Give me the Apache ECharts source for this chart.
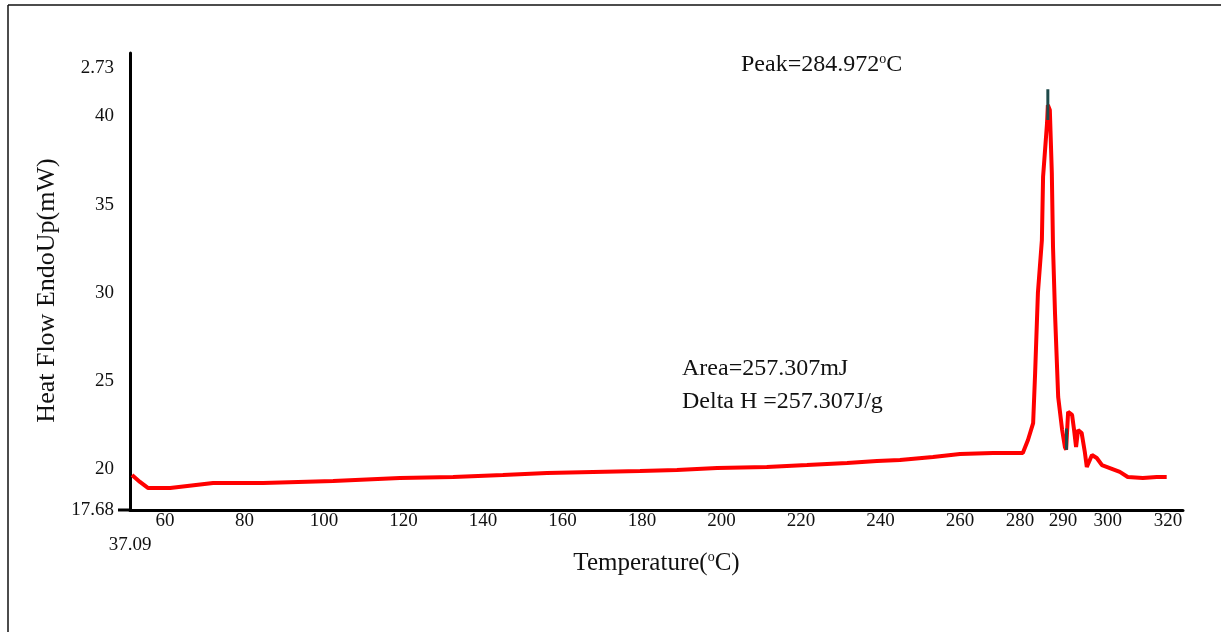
<!DOCTYPE html>
<html>
<head>
<meta charset="utf-8">
<script src="https://cdn.jsdelivr.net/npm/echarts@6/dist/echarts.min.js"></script>
<style>
    html, body { margin: 0; padding: 0; background: #fff; }
    #dscChart { width: 1226px; height: 632px; }
</style>
</head>
<body>
<div id="dscChart"></div>
<script>
// axis ticks (value on the axis, text printed under it)
var xTickValues = [51.2, 60, 80, 100, 120, 140, 160, 180, 200, 220, 240, 260, 275.1, 285.9, 297.2, 312.3];
var xTickLabels = ['37.09', '60', '80', '100', '120', '140', '160', '180', '200', '220', '240', '260', '280', '290', '300', '320'];
var yTickValues = [17.68, 20, 25, 30, 35, 40, 42.73];
var yTickLabels = ['17.68', '20', '25', '30', '35', '40', '2.73'];

// heat flow curve
var temperature = [51.7, 53.7, 55.7, 61.3, 72.1, 84.7, 102.3, 119.1, 132.5, 145.0, 156.1, 167.7, 179.5, 188.8,
    198.9, 211.4, 221.5, 231.6, 239.1, 244.9, 253.2, 260.0, 268.3, 275.8, 277.1, 278.4, 278.9, 279.6, 280.6,
    280.9, 281.9, 282.1, 282.6, 283.1, 283.4, 283.9, 284.7, 285.7, 286.4, 286.7, 287.2, 288.2, 288.7, 289.2,
    289.7, 290.6, 291.4, 291.9, 293.2, 294.4, 295.7, 297.7, 300.2, 302.2, 306.0, 309.5, 312.0];
var heatFlow = [19.67, 19.27, 18.93, 18.93, 19.21, 19.21, 19.32, 19.50, 19.55, 19.67, 19.78, 19.84, 19.89, 19.95,
    20.06, 20.12, 20.23, 20.35, 20.46, 20.52, 20.69, 20.86, 20.91, 20.91, 21.65, 22.61, 25.45, 29.99, 32.99,
    36.57, 39.63, 40.65, 40.37, 36.8, 32.6, 28.85, 24.09, 22.22, 21.25, 21.1, 23.24, 23.07, 22.22, 21.25,
    22.22, 22.05, 20.97, 20.12, 20.80, 20.63, 20.23, 20.06, 19.84, 19.55, 19.50, 19.55, 19.55];

// short dark strokes over the curve
var darkTemp = [282.1, 282.1, null, 286.8, 286.8];
var darkFlow = [41.55, 39.8, null, 22.3, 21.1];

function pairs(xs, ys) {
    var out = [];
    for (var i = 0; i < xs.length; i++) {
        out.push(xs[i] === null ? [null, null] : [xs[i], ys[i]]);
    }
    return out;
}

function labelFor(values, labels, v) {
    for (var i = 0; i < values.length; i++) {
        if (Math.abs(values[i] - v) < 0.001) return labels[i];
    }
    return '';
}

var serif = '"Liberation Serif", "DejaVu Serif", serif';

var chartDom = document.getElementById('dscChart');
var myChart = echarts.init(chartDom);
var option;

option = {
    animation: false,
    backgroundColor: '#fff',
    textStyle: { fontFamily: serif },
    grid: {
        left: 130,
        right: 43,
        top: 53,
        bottom: 122
    },
    xAxis: {
        type: 'value',
        min: 51.2,
        max: 316.1,
        name: 'Temperature({sup|o}C)',
        nameLocation: 'middle',
        nameGap: 40,
        nameMoveOverlap: false,
        nameTextStyle: {
            fontFamily: serif,
            fontSize: 25,
            color: '#111',
            rich: { sup: { fontFamily: serif, fontSize: 14, verticalAlign: 'top', padding: [0, 0, 12, 0], color: '#111' } }
        },
        axisLine: { onZero: false, lineStyle: { color: '#000', width: 3 } },
        axisTick: { show: false, customValues: xTickValues },
        splitLine: { show: false },
        axisLabel: {
            customValues: xTickValues,
            margin: 2,
            fontFamily: serif,
            fontSize: 19,
            color: '#111',
            formatter: function (value) {
                var txt = labelFor(xTickValues, xTickLabels, value);
                if (value === xTickValues[0]) return '{low|' + txt + '}';
                return txt;
            },
            rich: { low: { fontFamily: serif, fontSize: 19, color: '#111', padding: [24, 0, 0, 0] } }
        }
    },
    yAxis: {
        type: 'value',
        min: 17.68,
        max: 43.6,
        name: 'Heat Flow EndoUp(mW)',
        nameLocation: 'middle',
        nameGap: 70,
        nameTextStyle: { fontFamily: serif, fontSize: 26, color: '#111', padding: [0, 18, 0, 0] },
        axisLine: { show: true, lineStyle: { color: '#000', width: 3 } },
        axisTick: { show: false, customValues: yTickValues },
        splitLine: { show: false },
        axisLabel: {
            customValues: yTickValues,
            margin: 16,
            fontFamily: serif,
            fontSize: 19,
            color: '#111',
            formatter: function (value) {
                return labelFor(yTickValues, yTickLabels, value);
            }
        }
    },
    series: [{
        type: 'line',
        name: 'Heat Flow',
        data: pairs(temperature, heatFlow),
        showSymbol: false,
        smooth: false,
        lineStyle: { color: '#ff0000', width: 4 },
        color: '#ff0000'
    },
    {
        type: 'line',
        name: 'Marks',
        data: pairs(darkTemp, darkFlow),
        showSymbol: false,
        connectNulls: false,
        lineStyle: { color: '#1e4a4a', width: 3 },
        color: '#1e4a4a'
    }],
    graphic: [
        { type: 'line', shape: { x1: 8, y1: 5, x2: 1221, y2: 5 }, style: { stroke: '#111', lineWidth: 1.5 } },
        { type: 'line', shape: { x1: 8, y1: 5, x2: 8, y2: 632 }, style: { stroke: '#111', lineWidth: 1.5 } },
        { type: 'line', shape: { x1: 118, y1: 510, x2: 131, y2: 510 }, style: { stroke: '#000', lineWidth: 3 } },
        {
            type: 'text', left: 741, top: 52,
            style: {
                text: 'Peak=284.972{sup|o}C',
                font: '24px ' + serif,
                fill: '#111',
                rich: { sup: { fontFamily: serif, fontSize: 14, verticalAlign: 'top', padding: [0, 0, 12, 0], fill: '#111' } }
            }
        },
        {
            type: 'text', left: 682, top: 357,
            style: { text: 'Area=257.307mJ', font: '24px ' + serif, fill: '#111' }
        },
        {
            type: 'text', left: 682, top: 390,
            style: { text: 'Delta H =257.307J/g', font: '24px ' + serif, fill: '#111' }
        }
    ]
};

myChart.setOption(option);

window.addEventListener('resize', function () {
    setTimeout(function () {
        myChart.resize();
    }, 250);
});
</script>
</body>
</html>
